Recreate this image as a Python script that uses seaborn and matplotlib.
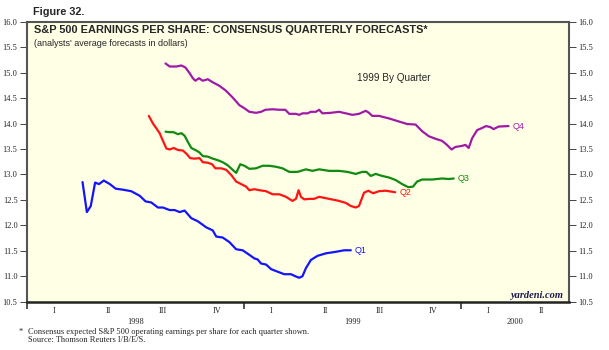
import numpy as np
import pandas as pd
import matplotlib
matplotlib.use("Agg")
import matplotlib.pyplot as plt
import matplotlib.transforms as mtransforms
import seaborn as sns

# Consensus forecasts (x = fractional year, y = EPS in dollars)
q1_x = [1998.255, 1998.275, 1998.293, 1998.313, 1998.331, 1998.353, 1998.381, 1998.408, 1998.442, 1998.480,
        1998.519, 1998.546, 1998.572, 1998.603, 1998.626, 1998.657, 1998.680, 1998.703, 1998.726, 1998.757,
        1998.787, 1998.826, 1998.856, 1998.872, 1998.902, 1998.933, 1998.964, 1998.994, 1999.025, 1999.048,
        1999.063, 1999.079, 1999.102, 1999.125, 1999.155, 1999.186, 1999.217, 1999.237, 1999.255, 1999.270,
        1999.286, 1999.309, 1999.339, 1999.378, 1999.424, 1999.462, 1999.493]
q1_y = [12.85, 12.26, 12.38, 12.84, 12.81, 12.88, 12.81, 12.72, 12.70, 12.67,
        12.58, 12.47, 12.45, 12.35, 12.35, 12.30, 12.30, 12.26, 12.29, 12.14,
        12.08, 11.96, 11.90, 11.78, 11.76, 11.67, 11.53, 11.51, 11.42, 11.35,
        11.33, 11.25, 11.23, 11.14, 11.09, 11.04, 11.04, 11.00, 10.97, 11.00,
        11.16, 11.32, 11.40, 11.45, 11.48, 11.51, 11.51]

q2_x = [1998.561, 1998.580, 1998.595, 1998.611, 1998.626, 1998.642, 1998.657, 1998.676, 1998.695, 1998.718,
        1998.736, 1998.752, 1998.772, 1998.795, 1998.810, 1998.833, 1998.853, 1998.868, 1998.895, 1998.918,
        1998.941, 1998.964, 1998.987, 1999.010, 1999.025, 1999.048, 1999.071, 1999.102, 1999.132, 1999.163,
        1999.194, 1999.224, 1999.240, 1999.252, 1999.263, 1999.278, 1999.301, 1999.324, 1999.347, 1999.393,
        1999.439, 1999.470, 1999.493, 1999.516, 1999.531, 1999.554, 1999.574, 1999.596, 1999.623, 1999.654,
        1999.698]
q2_y = [14.15, 14.00, 13.91, 13.81, 13.66, 13.51, 13.49, 13.52, 13.48, 13.47,
        13.40, 13.32, 13.31, 13.32, 13.24, 13.23, 13.20, 13.12, 13.12, 13.09,
        12.99, 12.86, 12.81, 12.76, 12.69, 12.71, 12.69, 12.67, 12.61, 12.61,
        12.56, 12.48, 12.52, 12.69, 12.56, 12.51, 12.52, 12.52, 12.56, 12.52,
        12.48, 12.44, 12.38, 12.35, 12.38, 12.64, 12.68, 12.63, 12.67, 12.68,
        12.65]

q3_x = [1998.638, 1998.657, 1998.675, 1998.695, 1998.711, 1998.726, 1998.741, 1998.757, 1998.780, 1998.795,
        1998.810, 1998.833, 1998.856, 1998.879, 1998.902, 1998.925, 1998.948, 1998.964, 1998.983, 1999.002,
        1999.025, 1999.056, 1999.086, 1999.117, 1999.148, 1999.178, 1999.209, 1999.247, 1999.286, 1999.316,
        1999.347, 1999.393, 1999.439, 1999.477, 1999.516, 1999.546, 1999.565, 1999.585, 1999.608, 1999.638,
        1999.669, 1999.700, 1999.730, 1999.758, 1999.780, 1999.799, 1999.822, 1999.868, 1999.914, 1999.945,
        1999.968]
q3_y = [13.84, 13.83, 13.83, 13.79, 13.81, 13.76, 13.64, 13.52, 13.47, 13.43,
        13.36, 13.35, 13.31, 13.28, 13.24, 13.18, 13.09, 13.03, 13.20, 13.17,
        13.11, 13.12, 13.17, 13.17, 13.15, 13.12, 13.05, 13.05, 13.10, 13.07,
        13.10, 13.07, 13.07, 13.05, 13.01, 13.05, 13.05, 12.97, 13.01, 12.97,
        12.94, 12.89, 12.81, 12.75, 12.76, 12.86, 12.90, 12.90, 12.92, 12.91,
        12.92]

q4_x = [1998.638, 1998.657, 1998.688, 1998.711, 1998.730, 1998.749, 1998.764, 1998.776, 1998.792, 1998.810,
        1998.833, 1998.856, 1998.887, 1998.918, 1998.948, 1998.979, 1999.002, 1999.025, 1999.056, 1999.079,
        1999.099, 1999.132, 1999.163, 1999.191, 1999.209, 1999.240, 1999.255, 1999.270, 1999.293, 1999.309,
        1999.332, 1999.347, 1999.362, 1999.401, 1999.439, 1999.470, 1999.500, 1999.531, 1999.562, 1999.577,
        1999.592, 1999.623, 1999.669, 1999.715, 1999.753, 1999.792, 1999.822, 1999.853, 1999.884, 1999.914,
        1999.937, 1999.958, 1999.976, 2000.006, 2000.022, 2000.037, 2000.053, 2000.076, 2000.098, 2000.117,
        2000.137, 2000.152, 2000.175, 2000.221]
q4_y = [15.18, 15.12, 15.12, 15.14, 15.10, 14.99, 14.89, 14.84, 14.89, 14.84,
        14.87, 14.81, 14.74, 14.64, 14.51, 14.36, 14.30, 14.23, 14.21, 14.23,
        14.27, 14.28, 14.27, 14.27, 14.19, 14.19, 14.17, 14.20, 14.20, 14.23,
        14.23, 14.27, 14.20, 14.21, 14.23, 14.20, 14.17, 14.19, 14.25, 14.21,
        14.15, 14.15, 14.10, 14.04, 13.99, 13.98, 13.85, 13.75, 13.70, 13.66,
        13.58, 13.49, 13.54, 13.56, 13.58, 13.52, 13.71, 13.87, 13.91, 13.95,
        13.93, 13.89, 13.94, 13.95]

series_names = ["Q1", "Q2", "Q3", "Q4"]
series_colors = ["#1414ff", "#ff1414", "#118a11", "#a01aa8"]

y_ticks = [10.5, 11.0, 11.5, 12.0, 12.5, 13.0, 13.5, 14.0, 14.5, 15.0, 15.5, 16.0]
quarter_labels = ["I", "II", "III", "IV", "I", "II", "III", "IV", "I", "II"]
year_labels = ["1998", "1999", "2000"]

# Long-format table for seaborn
frames = []
for name, xs, ys in zip(series_names, [q1_x, q2_x, q3_x, q4_x], [q1_y, q2_y, q3_y, q4_y]):
    frames.append(pd.DataFrame({"date": xs, "eps": ys, "quarter": name}))
df = pd.concat(frames, ignore_index=True)

sns.set_style("ticks")
plt.rcParams["font.family"] = ["Liberation Sans", "DejaVu Sans"]
serif = ["Liberation Serif", "DejaVu Serif"]

fig = plt.figure(figsize=(6.09, 3.5), dpi=100)
ax = fig.add_axes([0.0448, 0.138, 0.8895, 0.8])
ax.set_facecolor("#ffffe6")

sns.lineplot(data=df, x="date", y="eps", hue="quarter", palette=dict(zip(series_names, series_colors)),
             estimator=None, sort=False, linewidth=1.6, legend=False, ax=ax)

# series labels at line ends
for name, color in zip(series_names, series_colors):
    sub = df[df["quarter"] == name]
    ax.annotate(name, xy=(sub["date"].iloc[-1], sub["eps"].iloc[-1]), xytext=(3, 0),
                textcoords="offset points", color=color, fontsize=6.5, va="center", ha="left")

ax.set_xlim(1998.0, 2000.5)
ax.set_ylim(10.5, 16.0)
ax.set_xlabel("")
ax.set_ylabel("")

# y axis on both sides
ax.set_yticks(y_ticks)
ax.set_yticklabels(["%.1f" % v for v in y_ticks], family=serif, fontsize=6)
ax.tick_params(axis="y", which="major", left=True, right=True, labelleft=True, labelright=True,
               direction="out", length=5, width=0.7, color="#444444", pad=2)

# x axis: year boundaries as ticks, quarter numerals as minor labels
ax.set_xticks([1998.0, 1999.0, 2000.0])
ax.set_xticklabels(["", "", ""])
ax.tick_params(axis="x", which="major", direction="out", length=5, width=1.3, color="#444444")
q_centers = [1998.125 + 0.25 * i for i in range(len(quarter_labels))]
ax.set_xticks(q_centers, minor=True)
ax.set_xticklabels(quarter_labels, minor=True, family=serif, fontsize=6)
ax.tick_params(axis="x", which="minor", length=0, pad=4)

trans = mtransforms.blended_transform_factory(ax.transData, ax.transAxes)
for lab, xc in zip(year_labels, [1998.5, 1999.5, 2000.25]):
    ax.text(xc, -0.072, lab, transform=trans, ha="center", va="center", family=serif, fontsize=6)

for side in ["left", "right", "top"]:
    ax.spines[side].set_color("#555555")
    ax.spines[side].set_linewidth(1.5)
ax.spines["bottom"].set_color("#222222")
ax.spines["bottom"].set_linewidth(1.8)

# titles and notes
fig.text(0.054, 0.965, "Figure 32.", fontsize=7.8, fontweight="bold", va="center", ha="left")
ax.text(0.0133, 0.970, "S&P 500 EARNINGS PER SHARE: CONSENSUS QUARTERLY FORECASTS*",
        transform=ax.transAxes, fontsize=7.9, fontweight="bold", va="center", ha="left")
ax.text(0.0133, 0.923, "(analysts' average forecasts in dollars)", transform=ax.transAxes,
        fontsize=6.5, va="center", ha="left")
ax.text(0.6086, 0.798, "1999 By Quarter", transform=ax.transAxes, fontsize=7.2, va="center", ha="left")
ax.text(0.989, 0.022, "yardeni.com", transform=ax.transAxes, family=serif, fontsize=7.5,
        fontweight="bold", style="italic", color="#1a1a50", va="center", ha="right")

fig.text(0.030, 0.0514, "*", family=serif, fontsize=6, va="center", ha="left")
fig.text(0.046, 0.0514, "Consensus expected S&P 500 operating earnings per share for each quarter shown.",
         family=serif, fontsize=6, va="center", ha="left")
fig.text(0.046, 0.0286, "Source: Thomson Reuters I/B/E/S.", family=serif, fontsize=6, va="center", ha="left")

fig.savefig("out.png", dpi=100, facecolor="white")
